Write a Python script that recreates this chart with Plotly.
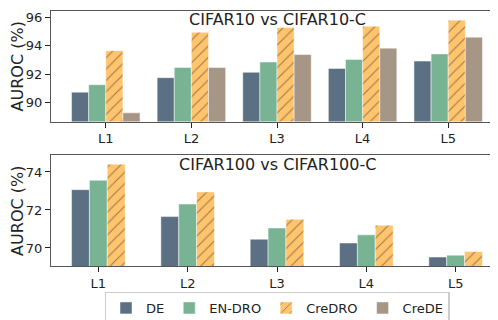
import numpy as np
import plotly.graph_objects as go
from plotly.subplots import make_subplots

levels = ["L1", "L2", "L3", "L4", "L5"]

# CIFAR10 vs CIFAR10-C
c10_de = [90.71, 91.74, 92.12, 92.40, 92.92]
c10_endro = [91.24, 92.46, 92.85, 93.03, 93.43]
c10_credro = [93.66, 94.97, 95.30, 95.40, 95.83]
c10_crede = [89.24, 92.46, 93.38, 93.84, 94.62]

# CIFAR100 vs CIFAR100-C
c100_de = [73.07, 71.65, 70.46, 70.26, 69.52]
c100_endro = [73.56, 72.31, 71.05, 70.69, 69.62]
c100_credro = [74.41, 72.95, 71.51, 71.20, 69.81]

COLORS = {
    "DE": "#5b7083",
    "EN-DRO": "#78b394",
    "CreDRO": "#ffc46c",
    "CreDE": "#a69686",
}
FONT = "DejaVu Sans"

fig = make_subplots(rows=2, cols=1, vertical_spacing=0.133)
idx = np.arange(len(levels))


def add_bars(values, name, offset, row, show):
    pattern = None
    if name == "CreDRO":
        pattern = dict(shape="/", fgcolor="#333333", bgcolor=COLORS[name],
                       size=8, solidity=0.14, fillmode="overlay")
    fig.add_trace(go.Bar(
        x=idx + offset, y=values, width=0.2, name=name,
        legendgroup=name, showlegend=show,
        marker=dict(color=COLORS[name], line=dict(color="rgba(255,255,255,0.6)", width=0.8),
                    pattern=pattern),
    ), row=row, col=1)


add_bars(c10_de, "DE", -0.3, 1, True)
add_bars(c10_endro, "EN-DRO", -0.1, 1, True)
add_bars(c10_credro, "CreDRO", 0.1, 1, True)
add_bars(c10_crede, "CreDE", 0.3, 1, True)

add_bars(c100_de, "DE", -0.2, 2, False)
add_bars(c100_endro, "EN-DRO", 0.0, 2, False)
add_bars(c100_credro, "CreDRO", 0.2, 2, False)

axis_style = dict(showline=True, linecolor="#555555", linewidth=1.2, mirror=True,
                  ticks="outside", ticklen=5, tickwidth=1.2, tickcolor="#222222",
                  showgrid=False, zeroline=False,
                  tickfont=dict(family=FONT, size=13, color="#222222"))

fig.update_xaxes(**axis_style, tickvals=idx, ticktext=levels)
fig.update_xaxes(range=[-0.64, 4.64], row=1, col=1)
fig.update_xaxes(range=[-0.53, 4.53], row=2, col=1)
fig.update_yaxes(**axis_style)
fig.update_yaxes(range=[88.62, 96.48], tickvals=[90, 92, 94, 96], row=1, col=1)
fig.update_yaxes(range=[69.05, 74.87], tickvals=[70, 72, 74], row=2, col=1)
fig.update_yaxes(title=dict(text="AUROC (%)", font=dict(family=FONT, size=16, color="#222222"),
                            standoff=2))

fig.update_layout(
    width=498, height=320,
    margin=dict(l=43, r=3, t=3, b=54),
    plot_bgcolor="white", paper_bgcolor="white",
    barmode="overlay",
    font=dict(family=FONT, color="#222222"),
    legend=dict(orientation="h", x=0.5, xanchor="center", y=-0.1, yanchor="top",
                font=dict(family=FONT, size=13, color="#222222"),
                bordercolor="#cccccc", borderwidth=1.5, bgcolor="white",
                itemwidth=30, traceorder="normal"),
    annotations=[
        dict(text="CIFAR10 vs CIFAR10-C", xref="paper", yref="paper", x=0.5, y=1.01,
             xanchor="center", yanchor="top", showarrow=False,
             font=dict(family=FONT, size=16, color="#222222")),
        dict(text="CIFAR100 vs CIFAR100-C", xref="paper", yref="paper", x=0.5, y=0.445,
             xanchor="center", yanchor="top", showarrow=False,
             font=dict(family=FONT, size=16, color="#222222")),
    ],
)

fig.write_html("out.html")
